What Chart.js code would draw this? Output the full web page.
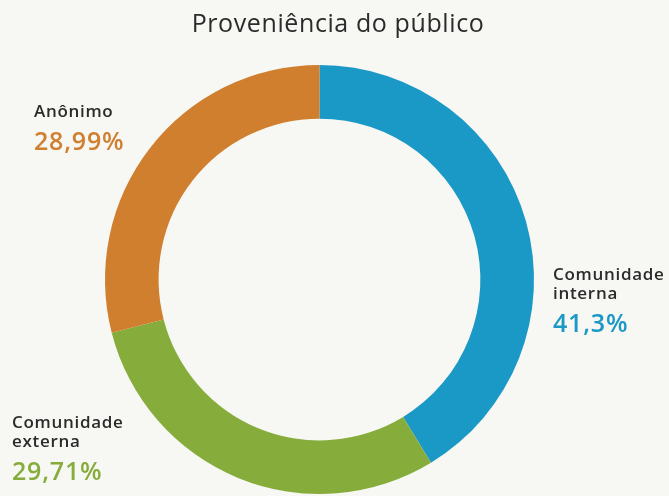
<!DOCTYPE html>
<html>
<head>
<meta charset="utf-8">
<script src="https://cdn.jsdelivr.net/npm/chart.js@4"></script>
<style>
  html, body { margin: 0; padding: 0; background: #f7f7f3; }
  #wrap { position: relative; width: 669px; height: 496px; }
</style>
</head>
<body>
<div id="wrap"><canvas id="origemChart" width="669" height="496"></canvas></div>
<script>
// Proveniência do público - doughnut
const categories = ['Comunidade interna', 'Comunidade externa', 'Anônimo'];
const percentages = [41.3, 29.71, 28.99];
const colors = ['#1a98c6', '#86ad3c', '#d07f2f'];

const chartTitle = 'Proveniência do público';

// where each callout sits (name lines + value)
const calloutPos = [
    { x: 553, y: 280 },
    { x: 12, y: 428 },
    { x: 34, y: 117 }
];

function fmtPct(v) {
    return String(v).replace('.', ',') + '%';
}

const calloutPlugin = {
    id: 'callouts',
    afterDraw(chart) {
        const c = chart.ctx;
        c.save();
        c.textBaseline = 'alphabetic';
        c.textAlign = 'center';
        c.fillStyle = '#2b2b2b';
        c.font = '500 25px "Open Sans"';
        c.letterSpacing = '0.6px';
        c.fillText(chartTitle, 338, 32);

        c.textAlign = 'left';
        categories.forEach((name, i) => {
            const p = calloutPos[i];
            const lines = name.split(' ');
            c.fillStyle = '#2b2b2b';
            c.font = '600 17px "Open Sans"';
            c.letterSpacing = '0.7px';
            lines.forEach((ln, j) => c.fillText(ln, p.x, p.y + j * 19));
            c.fillStyle = colors[i];
            c.font = '600 25px "Open Sans"';
            c.letterSpacing = '0.8px';
            c.fillText(fmtPct(percentages[i]), p.x, p.y + (lines.length - 1) * 19 + 33);
        });
        c.restore();
    }
};

new Chart(document.getElementById('origemChart').getContext('2d'), {
    type: 'doughnut',
    data: {
        labels: categories,
        datasets: [{
            data: percentages,
            backgroundColor: colors,
            borderWidth: 0
        }]
    },
    options: {
        responsive: false,
        animation: false,
        cutout: '75%',
        layout: { padding: { left: 105, right: 135, top: 65, bottom: 2 } },
        plugins: {
            legend: { display: false },
            title: { display: false },
            tooltip: { enabled: false }
        }
    },
    plugins: [calloutPlugin]
});
</script>
</body>
</html>
